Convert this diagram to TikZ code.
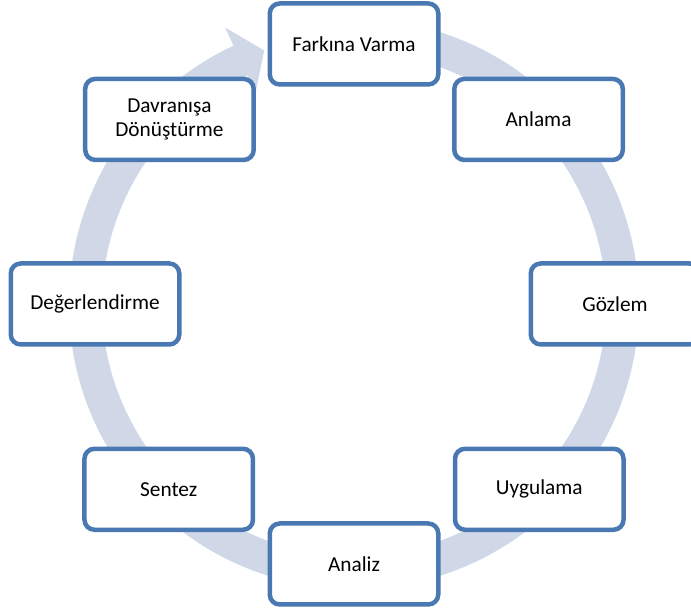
\documentclass[tikz,border=0pt]{standalone}
\usepackage{fontspec}
\setmainfont{Carlito}
\usetikzlibrary{calc}
\definecolor{ringc}{HTML}{D0D8E8}
\definecolor{boxc}{HTML}{4A78B2}
\begin{document}
\begin{tikzpicture}[x=1pt,y=1pt,
  stage/.style={draw=boxc, fill=white, line width=4.5pt, rounded corners=10pt,
    minimum width=168.5pt, minimum height=81pt, inner sep=0pt, align=center,
    font=\fontsize{21.3}{23.5}\selectfont}]
\clip (0,0) rectangle (691,612);
\coordinate (c) at (354,308);
% circular arrow band
\fill[ringc] ($(c)+(88:285)$) arc[start angle=88, end angle=-245, radius=285]
  -- ($(c)+(-245:305)$) -- ($(c)+(-250.5:269)$) -- ($(c)+(-245:233)$)
  -- ($(c)+(-245:252)$) arc[start angle=-245, end angle=88, radius=252] -- cycle;
% stages
\node[stage] (s1) at ($(c)+(90:260)$) {Farkına Varma};
\node[stage] (s2) at ($(c)+(45:261)$) {Anlama};
\node[stage] (s3) at ($(c)+(0:261)$) {Gözlem};
\node[stage] (s4) at ($(c)+(-45:262)$) {Uygulama};
\node[stage] (s5) at ($(c)+(-90:260)$) {Analiz};
\node[stage] (s6) at ($(c)+(-135:262)$) {Sentez};
\node[stage] (s7) at ($(c)+(180:259)$) {Değerlendirme};
\node[stage] (s8) at ($(c)+(135:261)$) {Davranışa\\Dönüştürme};
\end{tikzpicture}
\end{document}
